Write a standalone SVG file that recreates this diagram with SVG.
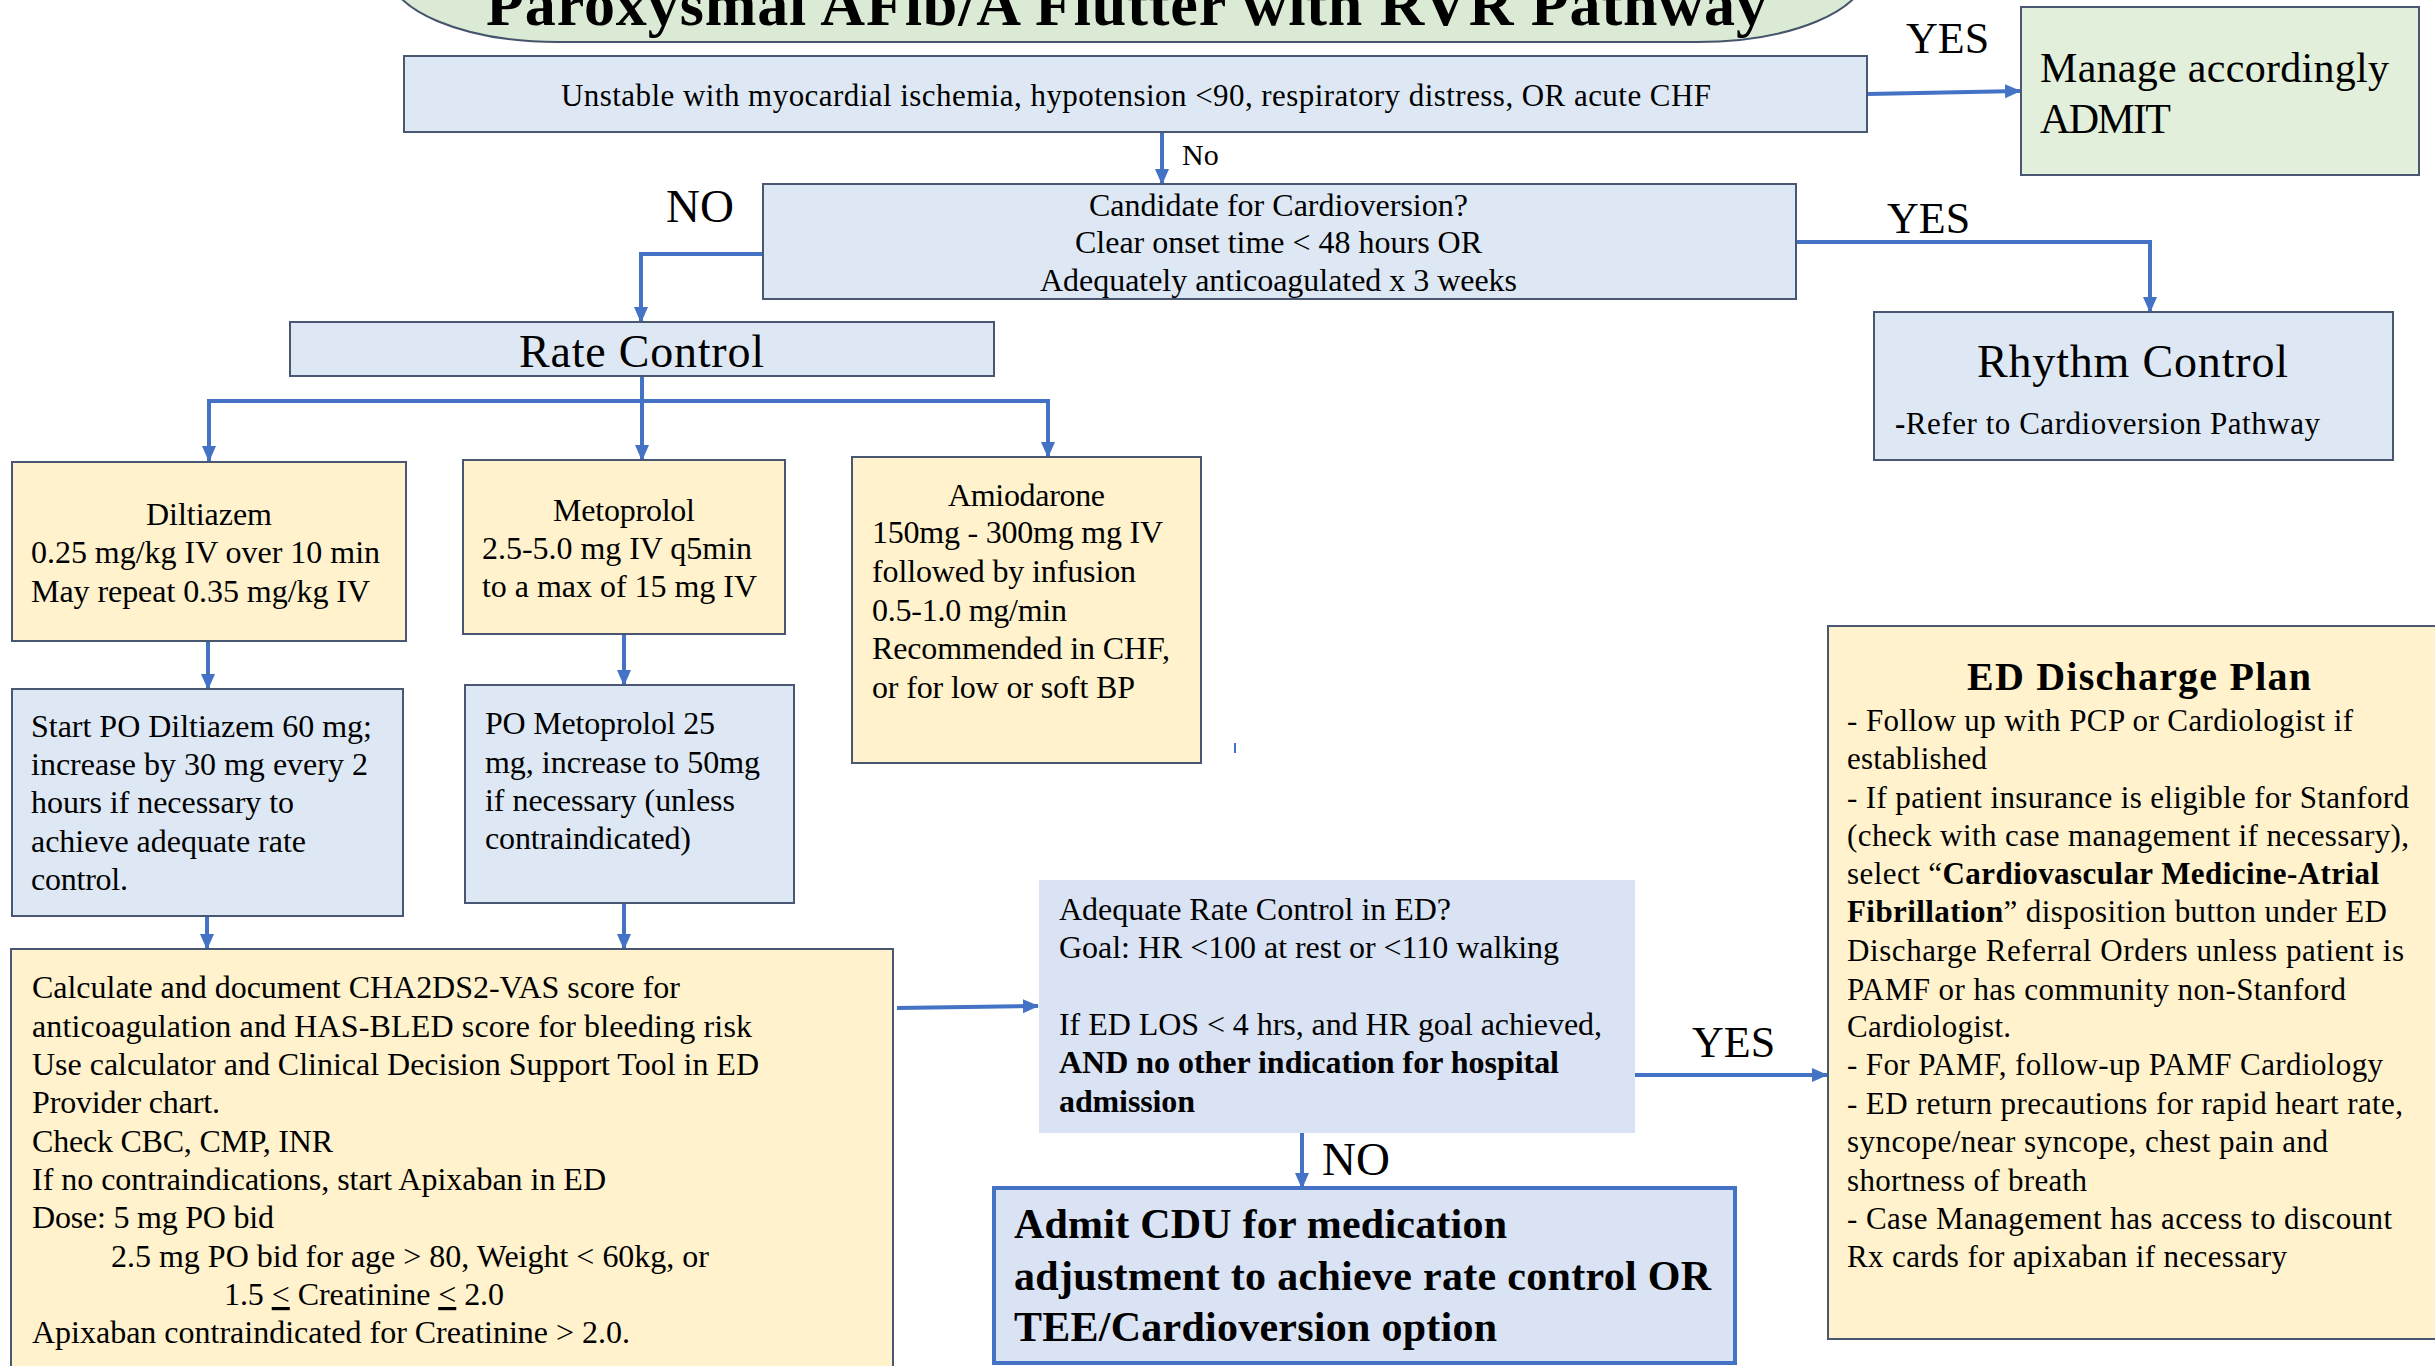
<svg xmlns="http://www.w3.org/2000/svg" width="2435" height="1366" viewBox="0 0 2435 1366">
  <defs>
    <marker id="arrow" markerUnits="userSpaceOnUse" markerWidth="16" markerHeight="16" viewBox="0 0 16 16" refX="15" refY="8" orient="auto">
      <path d="M0,1 L16,8 L0,15 Z" fill="#4472c4"/>
    </marker>
  </defs>
  <style>
    text { font-family: "Liberation Serif", "Times New Roman", serif; fill: #000; }
    .f30 { font-size: 30px; }
    .f31 { font-size: 31px; }
    .f32 { font-size: 32px; }
    .f42 { font-size: 42px; }
    .f44 { font-size: 44px; }
    .f46 { font-size: 46px; }
    .f47 { font-size: 47px; }
    .b { font-weight: bold; }
    .u { text-decoration: underline; }
    .blue { fill: #dee8f4; stroke: #4a5773; stroke-width: 2; }
    .yellow { fill: #fff2cc; stroke: #4a5773; stroke-width: 2; }
    .green { fill: #e2efda; stroke: #4a5773; stroke-width: 2; }
    .conn { fill: none; stroke: #4472c4; stroke-width: 4; }
    .arr { marker-end: url(#arrow); }
  </style>
  <rect width="2435" height="1366" fill="#ffffff"/>

  <!-- title banner -->
  <g id="title">
    <rect x="388" y="-100" width="1479" height="142" rx="170" ry="80" fill="#dbead4" stroke="#44546a" stroke-width="2"/>
    <text x="486" y="25" font-size="62" font-weight="bold" textLength="1281">Paroxysmal AFib/A Flutter with RVR Pathway</text>
  </g>

  <!-- connectors -->
  <g id="connectors">
    <path class="conn arr" d="M1868,94 L2020,91"/>
    <path class="conn arr" d="M1162,132 L1162,184"/>
    <path class="conn arr" d="M763,254 L641,254 L641,322"/>
    <path class="conn arr" d="M1796,242 L2150,242 L2150,312"/>
    <path class="conn" d="M642,376 L642,401 M207,401 L1050,401"/>
    <path class="conn arr" d="M209,399 L209,461"/>
    <path class="conn arr" d="M642,399 L642,460"/>
    <path class="conn arr" d="M1048,399 L1048,457"/>
    <path class="conn arr" d="M208,641 L208,689"/>
    <path class="conn arr" d="M624,634 L624,685"/>
    <path class="conn arr" d="M207,916 L207,949"/>
    <path class="conn arr" d="M624,903 L624,949"/>
    <path class="conn arr" d="M897,1008 L1038,1006"/>
    <path class="conn arr" d="M1635,1075 L1827,1075"/>
    <path class="conn arr" d="M1302,1133 L1302,1188"/>
    <path d="M1235,743 L1235,753" stroke="#4472c4" stroke-width="2"/>
    <text class="f30" x="1182" y="165">No</text>
    <text class="f44" x="1906" y="53">YES</text>
    <text class="f47" x="666" y="222">NO</text>
    <text class="f44" x="1887" y="233">YES</text>
    <text class="f44" x="1692" y="1057">YES</text>
    <text class="f47" x="1322" y="1175">NO</text>
  </g>

  <g id="unstable">
    <rect class="blue" x="404" y="56" width="1463" height="76"/>
    <text class="f31" x="561" y="106" textLength="1150">Unstable with myocardial ischemia, hypotension &lt;90, respiratory distress, OR acute CHF</text>
  </g>

  <g id="manage">
    <rect class="green" x="2021" y="7" width="398" height="168"/>
    <text class="f42" x="2040" y="82" textLength="349">Manage accordingly</text>
    <text class="f42" x="2040" y="133" textLength="131">ADMIT</text>
  </g>

  <g id="candidate">
    <rect class="blue" x="763" y="184" width="1033" height="115"/>
    <text class="f32" x="1089" y="216" textLength="379">Candidate for Cardioversion?</text>
    <text class="f32" x="1075" y="253" textLength="407">Clear onset time &lt; 48 hours OR</text>
    <text class="f32" x="1040" y="291" textLength="477">Adequately anticoagulated x 3 weeks</text>
  </g>

  <g id="rate-control">
    <rect class="blue" x="290" y="322" width="704" height="54"/>
    <text class="f46" x="519" y="367" textLength="245">Rate Control</text>
  </g>

  <g id="rhythm-control">
    <rect class="blue" x="1874" y="312" width="519" height="148"/>
    <text class="f46" x="1977" y="377" textLength="311">Rhythm Control</text>
    <text class="f31" x="1895" y="434" textLength="425"><tspan class="b">-</tspan>Refer to Cardioversion Pathway</text>
  </g>

  <g id="diltiazem">
    <rect class="yellow" x="12" y="462" width="394" height="179"/>
    <text class="f32" x="146" y="525" textLength="126">Diltiazem</text>
    <text class="f32" x="31" y="563" textLength="349">0.25 mg/kg IV over 10 min</text>
    <text class="f32" x="31" y="602" textLength="339">May repeat 0.35 mg/kg IV</text>
  </g>

  <g id="metoprolol">
    <rect class="yellow" x="463" y="460" width="322" height="174"/>
    <text class="f32" x="553" y="521" textLength="142">Metoprolol</text>
    <text class="f32" x="482" y="559" textLength="270">2.5-5.0 mg IV q5min</text>
    <text class="f32" x="482" y="597" textLength="275">to a max of 15 mg IV</text>
  </g>

  <g id="amiodarone">
    <rect class="yellow" x="852" y="457" width="349" height="306"/>
    <text class="f32" x="948" y="506" textLength="157">Amiodarone</text>
    <text class="f32" x="872" y="543" textLength="291">150mg - 300mg mg IV</text>
    <text class="f32" x="872" y="582" textLength="264">followed by infusion</text>
    <text class="f32" x="872" y="621" textLength="195">0.5-1.0 mg/min</text>
    <text class="f32" x="872" y="659" textLength="298">Recommended in CHF,</text>
    <text class="f32" x="872" y="698" textLength="263">or for low or soft BP</text>
  </g>

  <g id="po-diltiazem">
    <rect class="blue" x="12" y="689" width="391" height="227"/>
    <text class="f32" x="31" y="737" textLength="341">Start PO Diltiazem 60 mg;</text>
    <text class="f32" x="31" y="775" textLength="337">increase by 30 mg every 2</text>
    <text class="f32" x="31" y="813" textLength="263">hours if necessary to</text>
    <text class="f32" x="31" y="852" textLength="275">achieve adequate rate</text>
    <text class="f32" x="31" y="890" textLength="97">control.</text>
  </g>

  <g id="po-metoprolol">
    <rect class="blue" x="465" y="685" width="329" height="218"/>
    <text class="f32" x="485" y="734" textLength="230">PO Metoprolol 25</text>
    <text class="f32" x="485" y="773" textLength="275">mg, increase to 50mg</text>
    <text class="f32" x="485" y="811" textLength="250">if necessary (unless</text>
    <text class="f32" x="485" y="849" textLength="206">contraindicated)</text>
  </g>

  <g id="anticoagulation">
    <rect class="yellow" x="11" y="949" width="882" height="440"/>
    <text class="f32" x="32" y="998" textLength="648">Calculate and document CHA2DS2-VAS score for</text>
    <text class="f32" x="32" y="1037" textLength="720">anticoagulation and HAS-BLED score for bleeding risk</text>
    <text class="f32" x="32" y="1075" textLength="727">Use calculator and Clinical Decision Support Tool in ED</text>
    <text class="f32" x="32" y="1113" textLength="188">Provider chart.</text>
    <text class="f32" x="32" y="1152" textLength="301">Check CBC, CMP, INR</text>
    <text class="f32" x="32" y="1190" textLength="574">If no contraindications, start Apixaban in ED</text>
    <text class="f32" x="32" y="1228" textLength="242">Dose: 5 mg PO bid</text>
    <text class="f32" x="111" y="1267" textLength="598">2.5 mg PO bid for age &gt; 80, Weight &lt; 60kg, or</text>
    <text class="f32" x="224" y="1305" textLength="280">1.5 <tspan class="u">&lt;</tspan> Creatinine <tspan class="u">&lt;</tspan> 2.0</text>
    <text class="f32" x="32" y="1343" textLength="598">Apixaban contraindicated for Creatinine &gt; 2.0.</text>
  </g>

  <g id="rate-check">
    <rect x="1039" y="880" width="596" height="253" fill="#dae3f3"/>
    <text class="f32" x="1059" y="920" textLength="392">Adequate Rate Control in ED?</text>
    <text class="f32" x="1059" y="958" textLength="500">Goal: HR &lt;100 at rest or &lt;110 walking</text>
    <text class="f32" x="1059" y="1035" textLength="543">If ED LOS &lt; 4 hrs, and HR goal achieved,</text>
    <text class="f32 b" x="1059" y="1073" textLength="500">AND no other indication for hospital</text>
    <text class="f32 b" x="1059" y="1112" textLength="136">admission</text>
  </g>

  <g id="admit-cdu">
    <rect x="994" y="1188" width="741" height="175" fill="#dae3f3" stroke="#4472c4" stroke-width="4"/>
    <text class="f42 b" x="1014" y="1238" textLength="493">Admit CDU for medication</text>
    <text class="f42 b" x="1014" y="1290" textLength="697">adjustment to achieve rate control OR</text>
    <text class="f42 b" x="1014" y="1341" textLength="483">TEE/Cardioversion option</text>
  </g>

  <g id="discharge-plan">
    <rect class="yellow" x="1828" y="626" width="620" height="713"/>
    <text class="b" font-size="40" x="1967" y="690" textLength="344">ED Discharge Plan</text>
    <text class="f31" x="1847" y="731" textLength="506">- Follow up with PCP or Cardiologist if</text>
    <text class="f31" x="1847" y="769" textLength="140">established</text>
    <text class="f31" x="1847" y="808" textLength="562">- If patient insurance is eligible for Stanford</text>
    <text class="f31" x="1847" y="846" textLength="562">(check with case management if necessary),</text>
    <text class="f31" x="1847" y="884" textLength="532">select “<tspan class="b">Cardiovascular Medicine-Atrial</tspan></text>
    <text class="f31" x="1847" y="922" textLength="540"><tspan class="b">Fibrillation</tspan>” disposition button under ED</text>
    <text class="f31" x="1847" y="961" textLength="557">Discharge Referral Orders unless patient is</text>
    <text class="f31" x="1847" y="1000" textLength="499">PAMF or has community non-Stanford</text>
    <text class="f31" x="1847" y="1037" textLength="164">Cardiologist.</text>
    <text class="f31" x="1847" y="1075" textLength="536">- For PAMF, follow-up PAMF Cardiology</text>
    <text class="f31" x="1847" y="1114" textLength="556">- ED return precautions for rapid heart rate,</text>
    <text class="f31" x="1847" y="1152" textLength="481">syncope/near syncope, chest pain and</text>
    <text class="f31" x="1847" y="1191" textLength="240">shortness of breath</text>
    <text class="f31" x="1847" y="1229" textLength="545">- Case Management has access to discount</text>
    <text class="f31" x="1847" y="1267" textLength="440">Rx cards for apixaban if necessary</text>
  </g>
</svg>
